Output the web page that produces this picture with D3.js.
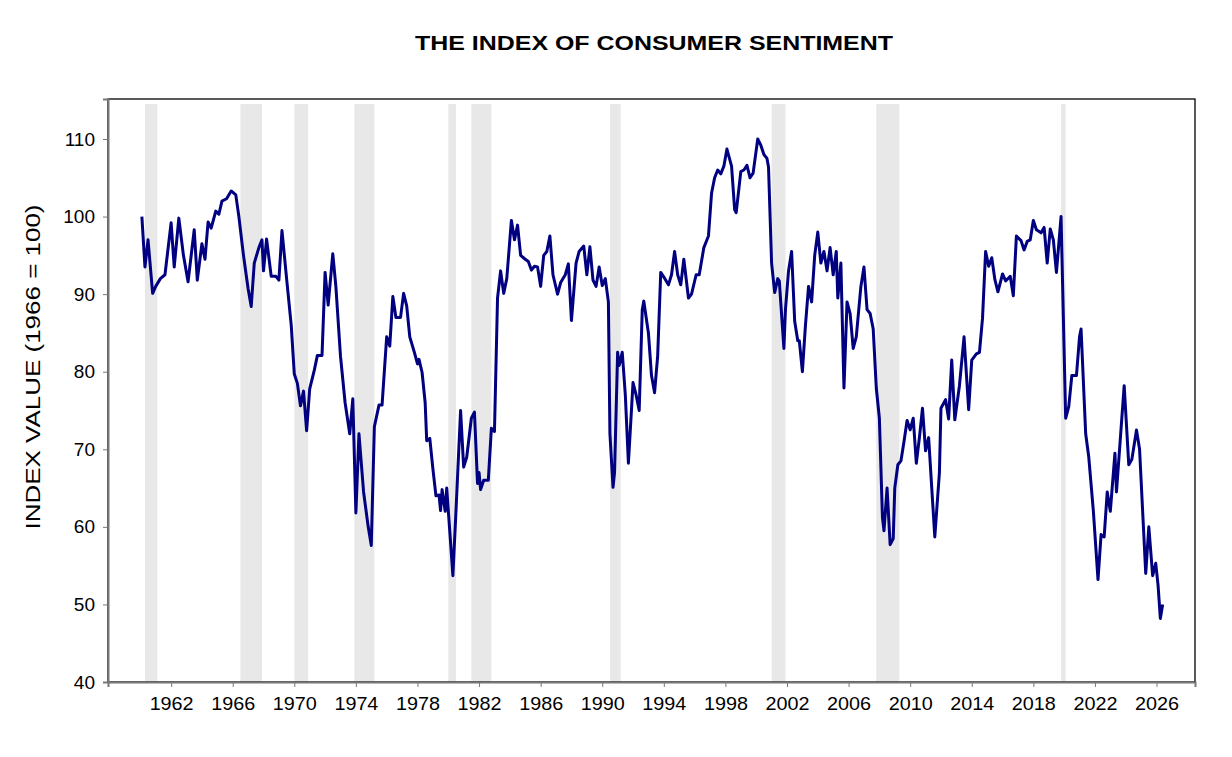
<!DOCTYPE html>
<html>
<head>
<meta charset="utf-8">
<script src="https://cdn.jsdelivr.net/npm/d3@7"></script>
<style>
  body { margin: 0; background: #fff; }
  text { font-family: "Liberation Sans", Arial, sans-serif; }
</style>
</head>
<body>
<svg id="chart" width="1232" height="757"></svg>
<script>
// [decimal year, index value], one array per period
var sentiment1960s = [[1960.1,100],[1960.3,93.5],[1960.5,97],[1960.8,90.1],[1961.0,91],[1961.3,92],[1961.6,92.5],[1962.0,99.2],[1962.2,93.5],[1962.5,99.8],[1962.8,95],[1963.1,91.6],[1963.5,98.3],[1963.7,91.8],[1964.0,96.5],[1964.2,94.5],[1964.4,99.3],[1964.6,98.5],[1964.9,100.7],[1965.1,100.3],[1965.3,102],[1965.6,102.3],[1965.9,103.3],[1966.2,102.8],[1966.4,100],[1966.7,95],[1967.0,90.7],[1967.2,88.4],[1967.4,94],[1967.7,96],[1967.9,97],[1968.0,93],[1968.2,97.1],[1968.5,92.3],[1968.8,92.3],[1969.0,91.8],[1969.2,98.2],[1969.5,92],[1969.8,86]];
var sentiment1970s = [[1970.0,79.7],[1970.2,78.5],[1970.4,75.6],[1970.6,77.5],[1970.8,72.4],[1971.0,77.8],[1971.3,80.2],[1971.5,82.1],[1971.8,82.1],[1972.0,92.8],[1972.2,88.6],[1972.5,95.2],[1972.7,91],[1973.0,82],[1973.3,76],[1973.6,72],[1973.8,76.5],[1974.0,61.8],[1974.2,72],[1974.5,64.5],[1974.8,60],[1975.0,57.6],[1975.2,72.9],[1975.5,75.7],[1975.7,75.7],[1976.0,84.5],[1976.2,83.3],[1976.4,89.7],[1976.6,87],[1976.9,87],[1977.1,90.1],[1977.3,88.5],[1977.5,84.5],[1977.8,82.5],[1978.0,81],[1978.1,81.6],[1978.3,79.9],[1978.5,76],[1978.6,71.1],[1978.8,71.4],[1979.0,67.5],[1979.2,64],[1979.4,64.1],[1979.5,62.1],[1979.6,64.8],[1979.8,62],[1979.9,65]];
var sentiment1980s = [[1980.3,53.7],[1980.5,62],[1980.8,75],[1981.0,67.7],[1981.2,69],[1981.5,74],[1981.7,74.8],[1981.9,65.6],[1982.0,67],[1982.1,64.8],[1982.3,66],[1982.6,66],[1982.8,72.7],[1983.0,72.3],[1983.2,89.5],[1983.4,93],[1983.6,90.1],[1983.8,92],[1984.1,99.5],[1984.3,97],[1984.5,98.9],[1984.7,95],[1985.0,94.5],[1985.2,94.2],[1985.4,93.1],[1985.6,93.6],[1985.8,93.5],[1986.0,91],[1986.2,95],[1986.4,95.5],[1986.6,97.5],[1986.8,92.5],[1987.1,90],[1987.3,91.5],[1987.6,92.5],[1987.8,93.9],[1988.0,86.6],[1988.3,94],[1988.5,95.5],[1988.8,96.2],[1989.0,92.5],[1989.2,96.1],[1989.4,91.8],[1989.6,91],[1989.8,93.5]];
var sentiment1990s = [[1990.0,91.1],[1990.2,92],[1990.4,89],[1990.5,72],[1990.7,65.1],[1990.8,67],[1991.0,82.5],[1991.1,80.8],[1991.3,82.5],[1991.5,77],[1991.7,68.2],[1992.0,78.6],[1992.2,77],[1992.4,75],[1992.6,88],[1992.7,89.1],[1993.0,85],[1993.2,79.5],[1993.4,77.3],[1993.6,82],[1993.8,92.8],[1994.0,92.2],[1994.3,91.2],[1994.5,92.5],[1994.7,95.5],[1994.9,92.5],[1995.1,91.2],[1995.3,94.5],[1995.6,89.5],[1995.8,90],[1996.1,92.5],[1996.3,92.5],[1996.6,96],[1996.9,97.5],[1997.1,103],[1997.3,105],[1997.5,106],[1997.7,105.5],[1997.9,106.5],[1998.1,108.7],[1998.4,106.5],[1998.6,100.9],[1998.7,100.5],[1999.0,105.8],[1999.2,106],[1999.4,106.6],[1999.6,105],[1999.8,105.6]];
var sentiment2000s = [[2000.1,110],[2000.3,109.2],[2000.5,108],[2000.7,107.5],[2000.8,106.4],[2001.0,94],[2001.2,90.2],[2001.4,92],[2001.5,91.7],[2001.8,83],[2001.9,88],[2002.1,93],[2002.3,95.5],[2002.5,86.5],[2002.7,84],[2002.8,84],[2003.0,80],[2003.2,86],[2003.4,91],[2003.6,89],[2003.8,95],[2004.0,98],[2004.2,94],[2004.4,95.5],[2004.6,93],[2004.8,96],[2005.0,92.5],[2005.2,95.5],[2005.3,89.5],[2005.5,94],[2005.7,77.9],[2005.9,89],[2006.1,87.5],[2006.3,83],[2006.5,84.5],[2006.8,91],[2007.0,93.5],[2007.2,88],[2007.4,87.5],[2007.6,85.5],[2007.8,77.9],[2008.0,74],[2008.2,61.2],[2008.3,59.5],[2008.5,65],[2008.7,57.7],[2008.9,58.5],[2009.0,65],[2009.2,68],[2009.4,68.5],[2009.6,71],[2009.8,73.7]];
var sentiment2010s = [[2010.0,72.5],[2010.2,74],[2010.4,68.2],[2010.6,71.5],[2010.8,75.3],[2011.0,69.8],[2011.2,71.5],[2011.6,58.7],[2011.9,67],[2012.0,75.3],[2012.3,76.4],[2012.5,73.9],[2012.7,81.5],[2012.9,73.8],[2013.2,78.2],[2013.5,84.5],[2013.8,75.1],[2014.0,81.5],[2014.3,82.3],[2014.5,82.5],[2014.7,86.9],[2014.9,95.5],[2015.1,93.6],[2015.3,94.7],[2015.5,91.9],[2015.7,90.3],[2016.0,92.6],[2016.2,91.7],[2016.5,92.3],[2016.7,89.8],[2016.9,97.5],[2017.2,96.9],[2017.4,95.7],[2017.6,96.8],[2017.8,97],[2018.0,99.5],[2018.2,98.3],[2018.5,97.9],[2018.7,98.6],[2018.9,94],[2019.1,98.4],[2019.3,97],[2019.5,92.8],[2019.8,100]];
var sentiment2020s = [[2020.1,74],[2020.3,75.5],[2020.5,79.5],[2020.8,79.5],[2021.0,84.5],[2021.1,85.5],[2021.4,72],[2021.6,69],[2021.9,62],[2022.2,53.2],[2022.4,59],[2022.6,58.7],[2022.8,64.5],[2023.0,62],[2023.3,69.5],[2023.4,64.5],[2023.9,78.2],[2024.2,68],[2024.4,68.7],[2024.7,72.5],[2024.9,70],[2025.3,54],[2025.5,60],[2025.75,53.7],[2025.95,55.3],[2026.1,52.5],[2026.25,48.2],[2026.4,50]];
var series = [].concat(sentiment1960s, sentiment1970s, sentiment1980s, sentiment1990s, sentiment2000s, sentiment2010s, sentiment2020s);

// shaded periods [start, end]
var shadeStart = [1960.3,1966.5,1970.0,1973.9,1980.0,1981.5,1990.5,2001.0,2007.8,2019.8];
var shadeEnd   = [1961.1,1967.9,1970.9,1975.2,1980.5,1982.8,1991.2,2001.9,2009.3,2020.1];

var yTicks = [40,50,60,70,80,90,100,110];
var xTicks = [1962,1966,1970,1974,1978,1982,1986,1990,1994,1998,2002,2006,2010,2014,2018,2022,2026];

var svg = d3.select("#chart");
var pLeft = 108, pRight = 1195, pTop = 99, pBottom = 682;

var x = d3.scaleLinear().domain([1957.9, 2028.5]).range([pLeft, pRight]);
var y = d3.scaleLinear().domain([40, 110 + (139 - 99) / 7.757]).range([pBottom, pTop]);

// shading
svg.selectAll("rect.shade")
  .data(shadeStart.map((s, i) => [s, shadeEnd[i]]))
  .enter().append("rect")
  .attr("x", d => x(d[0]))
  .attr("width", d => x(d[1]) - x(d[0]))
  .attr("y", 104)
  .attr("height", pBottom - 104)
  .attr("fill", "#e8e8e8");

// frame
svg.append("rect")
  .attr("x", pLeft).attr("y", pTop)
  .attr("width", pRight - pLeft).attr("height", pBottom - pTop)
  .attr("fill", "none").attr("stroke", "#000").attr("stroke-width", 1.3);

// axes
var yAxis = svg.append("g")
  .attr("transform", "translate(" + pLeft + ",0)")
  .call(d3.axisLeft(y).tickValues(yTicks).tickSize(5).tickPadding(8));
var xAxis = svg.append("g")
  .attr("transform", "translate(0," + pBottom + ")")
  .call(d3.axisBottom(x).tickValues(xTicks).tickFormat(d3.format("d")).tickSize(5).tickPadding(10));
[yAxis, xAxis].forEach(g => {
  g.select(".domain").attr("stroke", "#777").attr("stroke-width", 2);
  g.selectAll(".tick line").attr("stroke", "#777");
  g.selectAll("text").attr("font-size", 19).attr("fill", "#000")
    .attr("font-family", "'Liberation Sans', Arial, sans-serif");
});
xAxis.selectAll("text").attr("textLength", 44).attr("lengthAdjust", "spacingAndGlyphs");

// line
var line = d3.line()
  .x(d => x(d[0]))
  .y(d => y(d[1]));
svg.append("path")
  .datum(series)
  .attr("d", line)
  .attr("fill", "none")
  .attr("stroke", "#000080")
  .attr("stroke-width", 3)
  .attr("stroke-linejoin", "round");

// titles
svg.append("text")
  .attr("x", 654).attr("y", 50)
  .attr("text-anchor", "middle")
  .attr("font-size", 21).attr("font-weight", "bold")
  .attr("textLength", 478).attr("lengthAdjust", "spacingAndGlyphs")
  .text("THE INDEX OF CONSUMER SENTIMENT");

svg.append("text")
  .attr("transform", "translate(40,367) rotate(-90)")
  .attr("text-anchor", "middle")
  .attr("font-size", 20)
  .attr("textLength", 325).attr("lengthAdjust", "spacingAndGlyphs")
  .text("INDEX VALUE (1966 = 100)");
</script>
</body>
</html>
